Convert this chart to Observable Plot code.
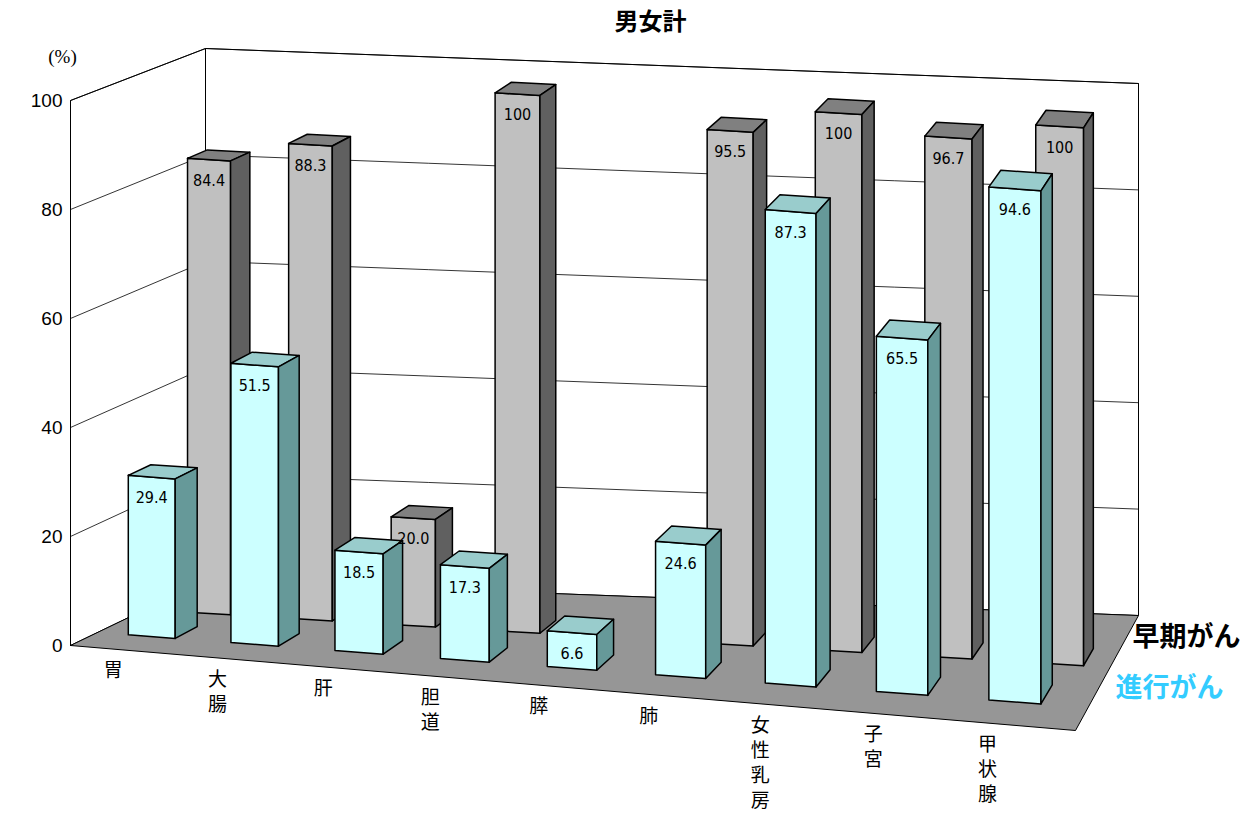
<!DOCTYPE html>
<html><head><meta charset="utf-8">
<script src="https://cdn.jsdelivr.net/npm/d3@7"></script>
<script src="https://cdn.jsdelivr.net/npm/@observablehq/plot@0.6"></script>
<style>body{margin:0;background:#fff}</style>
</head><body><div id="chart"></div>
<script>
const categories = ["胃","大腸","肝","胆道","膵","肺","女性乳房","子宮","甲状腺"];
const early = [84.4, 88.3, 20.0, 100, null, 95.5, 100, 96.7, 100];
const advanced = [29.4, 51.5, 18.5, 17.3, 6.6, 24.6, 87.3, 65.5, 94.6];
const yTicks = [0, 20, 40, 60, 80, 100];

// floor corners (bilinear projection of category position x and depth d)
const FL = [70, 645], FR = [1075, 730], BL = [205, 580], BR = [1138, 615];
function proj(x, d, v) {
  // slight perspective compression toward the middle/right
  const xe = x - 0.06 * x * (1 - x);
  const fx = FL[0] + (FR[0] - FL[0]) * xe, fy = FL[1] + (FR[1] - FL[1]) * xe;
  const bx = BL[0] + (BR[0] - BL[0]) * xe, by = BL[1] + (BR[1] - BL[1]) * xe;
  const k = 5.45 - 0.13 * d;
  return [fx + (bx - fx) * d, fy + (by - fy) * d - k * v];
}

const polys = [];
let pid = 0;
function poly(pts, fill) {
  const id = pid++;
  [...pts, pts[0]].forEach(([x, d, v]) => {
    const [px, py] = proj(x, d, v);
    polys.push({id, px, py, fill});
  });
}
function bar(x0, w, d0, dd, v, cFront, cTop, cSide) {
  poly([[x0,d0,0],[x0+w,d0,0],[x0+w,d0,v],[x0,d0,v]], cFront);
  poly([[x0,d0,v],[x0+w,d0,v],[x0+w,d0+dd,v],[x0,d0+dd,v]], cTop);
  poly([[x0+w,d0,0],[x0+w,d0+dd,0],[x0+w,d0+dd,v],[x0+w,d0,v]], cSide);
}

// walls and floor
poly([[0,0,0],[0,1,0],[0,1,100],[0,0,100]], "#fff");
poly([[0,1,0],[1,1,0],[1,1,100],[0,1,100]], "#fff");
poly([[0,0,0],[1,0,0],[1,1,0],[0,1,0]], "#969696");

const grid = [];
yTicks.slice(1).forEach((t, i) => {
  [[0,0],[0,1],[0.25,1],[0.5,1],[0.75,1],[1,1]].forEach(([x, d]) => {
    const [px, py] = proj(x, d, t);
    grid.push({g: i, px, py});
  });
});

const backX = i => 0.047 + 0.11 * i, frontX = i => 0.033 + 0.109 * i;
const labels = [];
early.forEach((v, i) => {
  if (v == null) return;
  bar(backX(i), 0.047, 0.55, 0.15, v, "#c0c0c0", "#808080", "#606060");
  const [px, py] = proj(backX(i) + 0.0235, 0.55, v);
  labels.push({px, py: py + 21, t: v === 100 ? "100" : v.toFixed(1)});
});
advanced.forEach((v, i) => {
  bar(frontX(i), 0.05, 0.2, 0.17, v, "#ccffff", "#99cccc", "#669999");
  const [px, py] = proj(frontX(i) + 0.025, 0.2, v);
  labels.push({px, py: py + 21, t: v.toFixed(1)});
});

const catText = [];
categories.forEach((c, i) => {
  const [px, py] = proj(frontX(i) + 0.012, 0, 0);
  [...c].forEach((ch, j) => catText.push({px, py: py + 22 + j * 25, t: ch}));
});
const tickText = yTicks.map(t => {
  const [px, py] = proj(0, 0, t);
  return {px: px - 8, py, t: String(t)};
});

const plot = Plot.plot({
  width: 1253, height: 827,
  margin: 0,
  x: {domain: [0, 1253], range: [0, 1253], axis: null},
  y: {domain: [0, 827], range: [0, 827], axis: null},
  style: {fontFamily: "'Noto Sans CJK JP', sans-serif"},
  marks: [
    Plot.line(polys, {x: "px", y: "py", z: "id", fill: "fill", stroke: "#000", strokeWidth: 1, filter: d => d.id <= 2}),
    Plot.line(grid, {x: "px", y: "py", z: "g", stroke: "#000", strokeWidth: 0.8}),
    Plot.line(polys, {x: "px", y: "py", z: "id", fill: "fill", stroke: "#000", strokeWidth: 1.5, strokeLinejoin: "round", filter: d => d.id > 2}),
    Plot.text(labels, {x: "px", y: "py", text: "t", fontSize: 16, fill: "#000", fontFamily: "DejaVu Sans Condensed, DejaVu Sans"}),
    Plot.text(catText, {x: "px", y: "py", text: "t", fontSize: 19, fill: "#000"}),
    Plot.text(tickText, {x: "px", y: "py", text: "t", fontSize: 19, textAnchor: "end", fontFamily: "Liberation Sans, Arial"}),
    Plot.text([{px: 62, py: 56, t: "(%)"}], {x: "px", y: "py", text: "t", fontSize: 19, fontFamily: "Liberation Serif"}),
    Plot.text([{px: 650, py: 22, t: "男女計"}], {x: "px", y: "py", text: "t", fontSize: 24, fontWeight: "bold"}),
    Plot.text([{px: 1132, py: 637, t: "早期がん"}], {x: "px", y: "py", text: "t", fontSize: 27, fontWeight: "bold", textAnchor: "start", fill: "#000"}),
    Plot.text([{px: 1115, py: 688, t: "進行がん"}], {x: "px", y: "py", text: "t", fontSize: 27, fontWeight: "bold", textAnchor: "start", fill: "#33ccff"})
  ]
});
document.querySelector("#chart").append(plot);
</script></body></html>
